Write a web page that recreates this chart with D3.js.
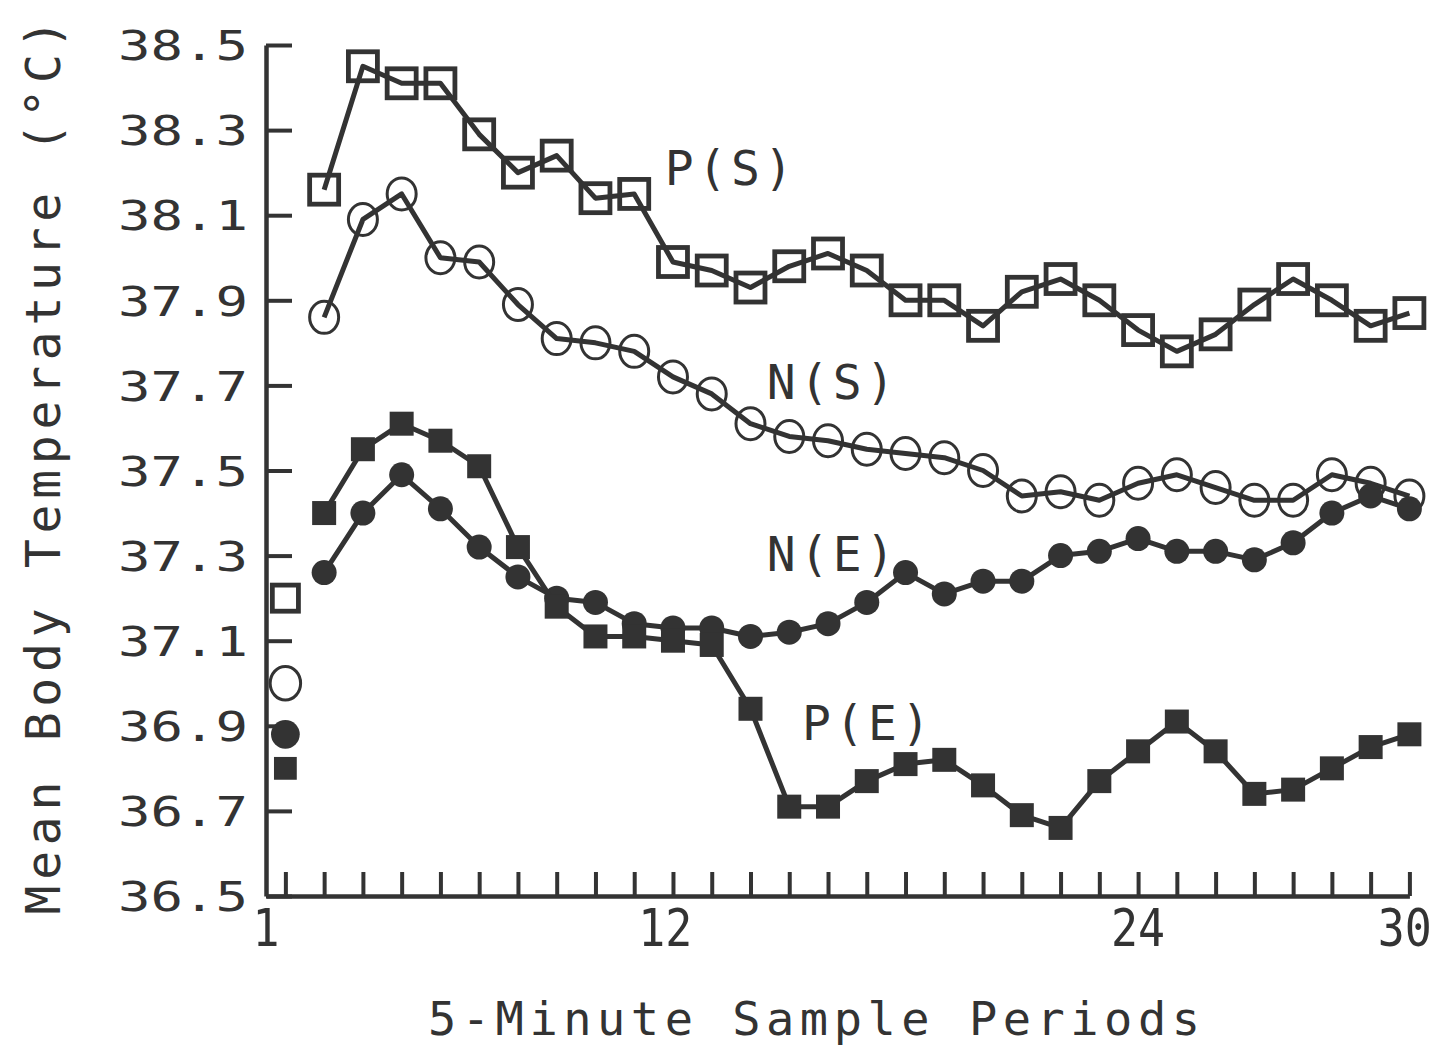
<!DOCTYPE html>
<html>
<head>
<meta charset="utf-8">
<script src="https://cdn.jsdelivr.net/npm/d3@7"></script>
<style>
  html, body { margin: 0; padding: 0; background: #fff; }
  svg { display: block; }
  text { font-family: "DejaVu Sans Mono", "Liberation Mono", monospace; fill: #333; }
</style>
</head>
<body>
<svg id="chart" width="1442" height="1047"></svg>
<script>
// 5-minute sample periods; period 1 is the pre-test baseline
const periods = d3.range(2, 31);
const baselinePeriod = 1;

// Mean body temperature (°C), periods 2–30
const psValues = [38.16, 38.45, 38.41, 38.41, 38.29, 38.20, 38.24, 38.14, 38.15, 37.99,
                  37.97, 37.93, 37.98, 38.01, 37.97, 37.90, 37.90, 37.84, 37.92, 37.95,
                  37.90, 37.83, 37.78, 37.82, 37.89, 37.95, 37.90, 37.84, 37.87];
const nsValues = [37.86, 38.09, 38.15, 38.00, 37.99, 37.89, 37.81, 37.80, 37.78, 37.72,
                  37.68, 37.61, 37.58, 37.57, 37.55, 37.54, 37.53, 37.50, 37.44, 37.45,
                  37.43, 37.47, 37.49, 37.46, 37.43, 37.43, 37.49, 37.47, 37.44];
const neValues = [37.26, 37.40, 37.49, 37.41, 37.32, 37.25, 37.20, 37.19, 37.14, 37.13,
                  37.13, 37.11, 37.12, 37.14, 37.19, 37.26, 37.21, 37.24, 37.24, 37.30,
                  37.31, 37.34, 37.31, 37.31, 37.29, 37.33, 37.40, 37.44, 37.41];
const peValues = [37.40, 37.55, 37.61, 37.57, 37.51, 37.32, 37.18, 37.11, 37.11, 37.10,
                  37.09, 36.94, 36.71, 36.71, 36.77, 36.81, 36.82, 36.76, 36.69, 36.66,
                  36.77, 36.84, 36.91, 36.84, 36.74, 36.75, 36.80, 36.85, 36.88];

// Baseline readings (period 1), in series order P(S), N(S), N(E), P(E)
const seriesNames = ["P(S)", "N(S)", "N(E)", "P(E)"];
const baselineValues = [37.20, 37.00, 36.88, 36.80];

// Axis ticks and labels
const yTickValues = [36.5, 36.7, 36.9, 37.1, 37.3, 37.5, 37.7, 37.9, 38.1, 38.3, 38.5];
const xTickValues = d3.range(1, 31);
const xTickLabels = ["1", "12", "24", "30"];

const INK = "#333";
const svg = d3.select("#chart");

const x = d3.scaleLinear().domain([0.5, 30]).range([266, 1409.4]);
const y = d3.scaleLinear().domain([36.5, 38.5]).range([896, 45]);

// ---- axes ----
const yAxis = d3.axisLeft(y)
  .tickValues(yTickValues)
  .tickFormat(d3.format(".1f"))
  .tickSizeInner(-26)
  .tickSizeOuter(0)
  .tickPadding(18);

const gy = svg.append("g").attr("transform", `translate(${x(0.5)},0)`).call(yAxis);
gy.select(".domain").attr("stroke", INK).attr("stroke-width", 4.5);
gy.selectAll(".tick line").attr("stroke", INK).attr("stroke-width", 4);
gy.selectAll(".tick text")
  .attr("fill", INK)
  .attr("font-size", 41)
  .attr("dy", "0.36em")
  .attr("textLength", 130)
  .attr("lengthAdjust", "spacingAndGlyphs")
  .style("font-family", '"DejaVu Sans Mono", monospace');

const xAxis = d3.axisBottom(x)
  .tickValues(xTickValues)
  .tickFormat("")
  .tickSizeInner(-24)
  .tickSizeOuter(0);

const gx = svg.append("g").attr("transform", `translate(0,${y(36.5)})`).call(xAxis);
gx.select(".domain").attr("stroke", INK).attr("stroke-width", 4.5);
gx.selectAll(".tick line").attr("stroke", INK).attr("stroke-width", 4);

// period labels sit under the axis at these period positions
const xLabelAt = [0.5, 10.8, 23, 29.88];
svg.append("g").selectAll("text")
  .data(xTickLabels)
  .join("text")
  .attr("x", (d, i) => x(xLabelAt[i]))
  .attr("y", 946)
  .attr("text-anchor", "middle")
  .attr("font-size", 52)
  .attr("textLength", d => d.length * 27)
  .attr("lengthAdjust", "spacingAndGlyphs")
  .text(d => d);

// axis titles
svg.append("text")
  .attr("x", 814)
  .attr("y", 1035)
  .attr("text-anchor", "middle")
  .attr("font-size", 47)
  .attr("textLength", 772)
  .attr("lengthAdjust", "spacing")
  .text("5-Minute Sample Periods");

svg.append("text")
  .attr("transform", "translate(60,467) rotate(-90)")
  .attr("text-anchor", "middle")
  .attr("font-size", 48)
  .attr("textLength", 895)
  .attr("lengthAdjust", "spacing")
  .text("Mean Body Temperature (°C)");

// ---- series ----
const series = [
  { name: seriesNames[0], values: psValues, marker: "openSquare", base: baselineValues[0] },
  { name: seriesNames[1], values: nsValues, marker: "openCircle", base: baselineValues[1] },
  { name: seriesNames[2], values: neValues, marker: "filledCircle", base: baselineValues[2] },
  { name: seriesNames[3], values: peValues, marker: "filledSquare", base: baselineValues[3] }
];

const line = d3.line()
  .x((d, i) => x(periods[i]))
  .y(d => y(d));

function drawMarker(g, type, cx, cy, scale) {
  const s = scale || 1;
  if (type === "openSquare") {
    const a = 29 * s;
    g.append("rect").attr("x", cx - a / 2).attr("y", cy - a / 2)
      .attr("width", a).attr("height", a)
      .attr("fill", "none").attr("stroke", INK).attr("stroke-width", 4.8);
  } else if (type === "openCircle") {
    g.append("ellipse").attr("cx", cx).attr("cy", cy)
      .attr("rx", 14.5 * s).attr("ry", 16 * s)
      .attr("fill", "none").attr("stroke", INK).attr("stroke-width", 3);
  } else if (type === "filledCircle") {
    g.append("circle").attr("cx", cx).attr("cy", cy).attr("r", 12.5 * s)
      .attr("fill", INK);
  } else {
    const a = 24 * s;
    g.append("rect").attr("x", cx - a / 2).attr("y", cy - a / 2)
      .attr("width", a).attr("height", a).attr("fill", INK);
  }
}

const plot = svg.append("g");
series.forEach(s => {
  const g = plot.append("g");
  g.append("path")
    .datum(s.values)
    .attr("d", line)
    .attr("fill", "none")
    .attr("stroke", INK)
    .attr("stroke-width", 5)
    .attr("stroke-linejoin", "round");
  s.values.forEach((v, i) => drawMarker(g, s.marker, x(periods[i]), y(v), 1));
  // baseline reading, not joined to the series line
  const bs = { openSquare: 0.9, openCircle: 1.05, filledCircle: 1.15, filledSquare: 0.95 }[s.marker];
  drawMarker(g, s.marker, x(baselinePeriod), y(s.base), bs);
});

// series labels
const labelAnchors = [
  { period: 10.79, value: 38.171 },
  { period: 13.42, value: 37.667 },
  { period: 13.42, value: 37.263 },
  { period: 14.33, value: 36.867 }
];
svg.append("g").selectAll("text")
  .data(seriesNames)
  .join("text")
  .attr("x", (d, i) => x(labelAnchors[i].period))
  .attr("y", (d, i) => y(labelAnchors[i].value))
  .attr("font-size", 48)
  .attr("textLength", 128)
  .attr("lengthAdjust", "spacing")
  .text(d => d);
</script>
</body>
</html>
